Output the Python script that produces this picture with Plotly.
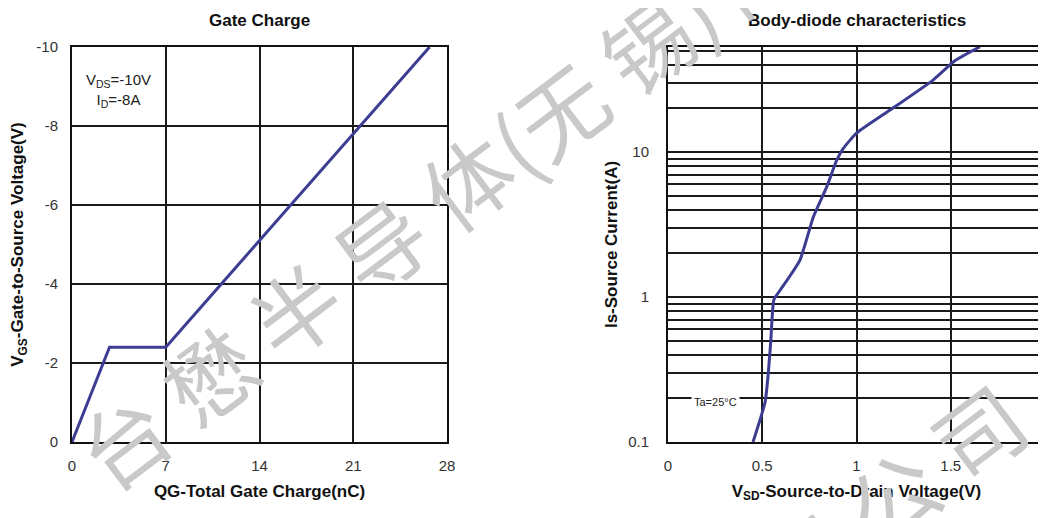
import plotly.graph_objects as go

# ---------------- data ----------------
qg_nc = [0, 2.8, 7.0, 26.7]
vgs_v = [0, -2.4, -2.4, -10.0]

vsd_v = [0.451, 0.515, 0.532, 0.545, 0.562, 0.594, 0.70, 0.771, 0.842, 0.895, 0.93, 1.0, 1.178, 1.406, 1.52, 1.655]
is_a = [0.1, 0.188, 0.298, 0.49, 0.962, 1.11, 1.80, 3.57, 5.75, 8.8, 10.6, 13.5, 19.5, 31.4, 42.5, 53.3]

gate_x_ticks = [0, 7, 14, 21, 28]
gate_x_labels = ["0", "7", "14", "21", "28"]
gate_y_ticks = [0, -2, -4, -6, -8, -10]
gate_y_labels = ["0", "-2", "-4", "-6", "-8", "-10"]
diode_x_ticks = [0, 0.5, 1, 1.5, 2]
diode_x_labels = ["0", "0.5", "1", "1.5", "2"]
diode_y_grid = [0.1, 0.2, 0.3, 0.4, 0.5, 0.6, 0.7, 0.8, 0.9,
                1, 2, 3, 4, 5, 6, 7, 8, 9, 10, 20, 30, 40, 50]
diode_y_labels = {0.1: "0.1", 1: "1", 10: "10"}

watermark_main = "台 懋 半 导 体(无 锡)有 限 公 司"
watermark_second = "有 限 公 司"

# ---------------- style ----------------
FONT = "Liberation Sans, Arial, sans-serif"
LINE_COLOR = "#3c3d92"
GRID = "#1a1a1a"

OFF = 8  # page body margin offsets the figure in the browser
W, H = 1046 - OFF, 518 - OFF
ML, MR, MT, MB = 72 - OFF, 1, 47 - OFF, 518 - 442
PW, PH = W - ML - MR, H - MT - MB


def px_x(px):
    return (px - OFF - ML) / PW


def px_y(py):
    return (H - MB - (py - OFF)) / PH


fig = go.Figure()

fig.add_trace(go.Scatter(x=qg_nc, y=vgs_v, mode="lines",
                         line=dict(color=LINE_COLOR, width=3),
                         xaxis="x", yaxis="y", showlegend=False))
fig.add_trace(go.Scatter(x=vsd_v, y=is_a, mode="lines",
                         line=dict(color=LINE_COLOR, width=3, shape="spline", smoothing=0.5),
                         xaxis="x2", yaxis="y2", showlegend=False))

tickfont = dict(family=FONT, size=15, color="#333333")
titlefont = dict(family=FONT, size=17, color="#111111", weight="bold")

axis_common = dict(showline=True, linecolor="#111111", linewidth=2, mirror=True,
                   showgrid=True, gridcolor=GRID, gridwidth=1.6, zeroline=False,
                   ticks="", tickfont=tickfont, automargin=False)

fig.update_layout(
    width=W, height=H,
    margin=dict(l=ML, r=MR, t=MT, b=MB),
    paper_bgcolor="white", plot_bgcolor="white",
    showlegend=False,
    xaxis=dict(domain=[0, px_x(447)], range=[0, 28], tickvals=gate_x_ticks,
               ticktext=gate_x_labels, ticklabelstandoff=9,
               title=dict(text="QG-Total Gate Charge(nC)", font=titlefont, standoff=12),
               **axis_common),
    yaxis=dict(domain=[0, 1], range=[0, -10], tickvals=gate_y_ticks,
               ticktext=gate_y_labels, ticklabelstandoff=9,
               title=dict(text="V<sub>GS</sub>-Gate-to-Source Voltage(V)", font=titlefont, standoff=12),
               **axis_common),
    xaxis2=dict(domain=[px_x(668), 1], range=[0, 2], tickvals=diode_x_ticks,
                ticktext=diode_x_labels, anchor="y2", ticklabelstandoff=9,
                ticklabeloverflow="allow",
                title=dict(text="V<sub>SD</sub>-Source-to-Drain Voltage(V)", font=titlefont, standoff=12),
                **axis_common),
    yaxis2=dict(domain=[0, 1], type="log", range=[-1, 1.725], anchor="x2",
                tickvals=diode_y_grid,
                ticktext=[diode_y_labels.get(v, "") for v in diode_y_grid],
                ticklabelstandoff=14,
                title=dict(text="Is-Source Current(A)", font=titlefont, standoff=6),
                **axis_common),
)

WM_FONT = dict(family="Noto Sans CJK SC", size=88, color="#c9c9c9")
annotations = [
    dict(text="<b>Gate Charge</b>", x=px_x(259.5), y=px_y(20),
         font=dict(family=FONT, size=17, color="#111111")),
    dict(text="<b>Body-diode characteristics</b>", x=px_x(857), y=px_y(20),
         font=dict(family=FONT, size=17, color="#111111")),
    dict(text="V<sub>DS</sub>=-10V<br>I<sub>D</sub>=-8A", x=px_x(118), y=px_y(90),
         align="center", font=dict(family=FONT, size=15, color="#222222")),
    dict(text="Ta=25°C", x=px_x(715), y=px_y(402), bgcolor="white",
         borderpad=2, font=dict(family=FONT, size=11, color="#222222")),
    dict(text=watermark_main, x=px_x(559), y=px_y(108), textangle=-37, font=WM_FONT),
    dict(text=watermark_second, x=px_x(847), y=px_y(527), textangle=-37, font=WM_FONT),
]
for a in annotations:
    a.update(xref="paper", yref="paper", showarrow=False,
             xanchor="center", yanchor="middle")
fig.update_layout(annotations=annotations)

fig.write_html("out.html")
